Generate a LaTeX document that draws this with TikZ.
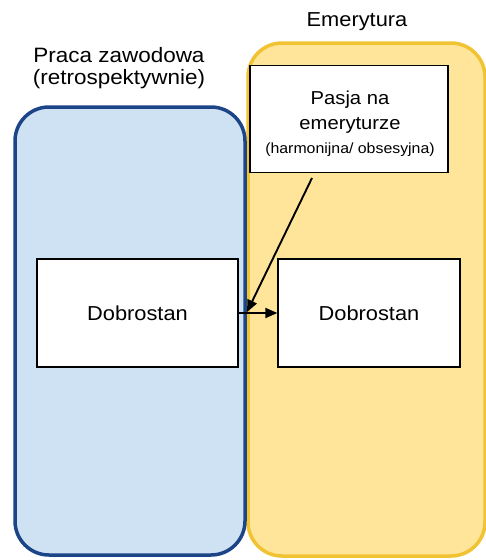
\documentclass[tikz,border=0pt]{standalone}
\usepackage{fontspec}
\setmainfont{Liberation Sans}[FakeStretch=1.08]
\usetikzlibrary{arrows.meta}
\definecolor{workfill}{HTML}{CFE2F3}
\definecolor{workline}{HTML}{1C4587}
\definecolor{retfill}{HTML}{FFE599}
\definecolor{retline}{HTML}{F1C232}

\begin{document}
\begin{tikzpicture}[x=1pt,y=-1pt,
  phase/.style={rounded corners=34pt, line width=3.5pt},
  box/.style={draw=black, fill=white, line width=1.3pt, inner sep=0pt},
  link/.style={line width=1.9pt, -{Triangle[length=12pt,width=10pt]}},
  title/.style={anchor=base, inner sep=0pt, font=\fontsize{20.2}{24}\selectfont},
  headtext/.style={anchor=base, inner sep=0pt, font=\fontsize{20.8}{24}\selectfont},
  boxtext/.style={font=\fontsize{20.2}{24}\selectfont},
  passtext/.style={anchor=base, inner sep=0pt, font=\fontsize{18.7}{22}\selectfont},
  smalltext/.style={anchor=base, inner sep=0pt, font=\fontsize{14.7}{17}\selectfont}
]
\useasboundingbox (0,0) rectangle (486,560);

% the two life phases
\draw[phase, draw=retline, fill=retfill] (248,43) rectangle (485,556);
\draw[phase, draw=workline, fill=workfill] (15,107) rectangle (245,555);

% phase titles
\node[title] (emtitle) at (357,26) {Emerytura};
\node[headtext] (worktitle1) at (119,62) {Praca zawodowa};
\node[headtext] (worktitle2) at (119,84) {(retrospektywnie)};

% boxes
\node[box, boxtext, minimum width=201pt, minimum height=108pt] (workwell) at (137.5,313) {Dobrostan};
\node[box, boxtext, minimum width=182pt, minimum height=108pt] (retwell) at (369,313) {Dobrostan};
\node[box, minimum width=198pt, minimum height=107pt] (pasja) at (349,119) {};
\node[passtext] (pasja1) at (350,104) {Pasja na};
\node[passtext] (pasja2) at (350,129) {emeryturze};
\node[smalltext] (pasja3) at (350,153) {(harmonijna/ obsesyjna)};

% connectors
\coordinate (pasjaout) at (312,178);
\coordinate (flowjoin) at (247,312);
\draw[link] (workwell.east) -- (retwell.west);
\draw[link] (pasjaout) -- (flowjoin);
\end{tikzpicture}
\end{document}
